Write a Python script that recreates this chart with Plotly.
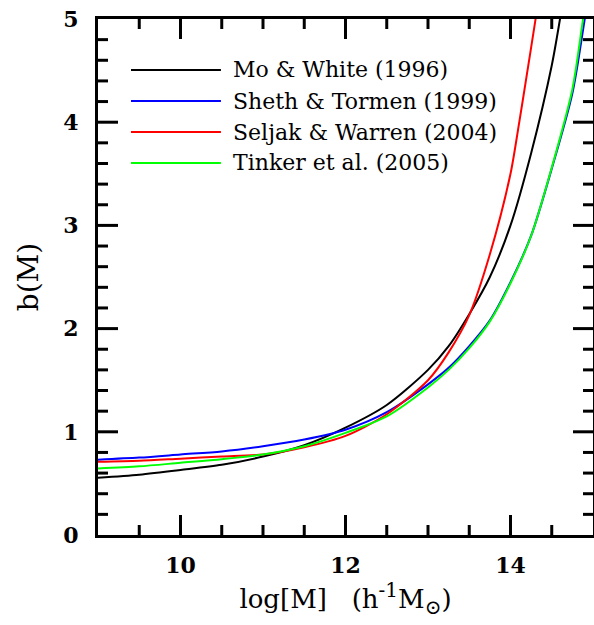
import plotly.graph_objects as go

# ---- data ----
names = ["Mo & White (1996)", "Sheth & Tormen (1999)", "Seljak & Warren (2004)", "Tinker et al. (2005)"]
colors = ["#000000", "#0000ff", "#ff0000", "#00ff00"]

mw_x = [9.0, 9.5, 10.0, 10.5, 11.0, 11.5, 12.0, 12.5, 13.0, 13.25, 13.5, 13.75, 14.0, 14.25, 14.5, 14.6, 14.7]
mw_y = [0.555, 0.585, 0.63, 0.68, 0.76, 0.87, 1.04, 1.26, 1.60, 1.83, 2.14, 2.50, 3.0, 3.70, 4.55, 5.0, 5.5]

st_x = [9.0, 9.5, 10.0, 10.5, 11.0, 11.5, 12.0, 12.5, 13.0, 13.25, 13.5, 13.75, 14.0, 14.25, 14.5, 14.75, 14.9, 15.0]
st_y = [0.73, 0.75, 0.78, 0.81, 0.86, 0.925, 1.02, 1.19, 1.46, 1.62, 1.83, 2.08, 2.45, 2.90, 3.55, 4.28, 5.0, 5.5]

sw_x = [9.0, 9.5, 10.0, 10.5, 11.0, 11.5, 12.0, 12.5, 13.0, 13.25, 13.5, 13.75, 14.0, 14.1, 14.2, 14.3, 14.35]
sw_y = [0.71, 0.72, 0.74, 0.76, 0.78, 0.85, 0.96, 1.17, 1.50, 1.77, 2.13, 2.72, 3.50, 3.97, 4.47, 4.98, 5.25]

tk_x = [9.0, 9.5, 10.0, 10.5, 11.0, 11.5, 12.0, 12.5, 13.0, 13.25, 13.5, 13.75, 14.0, 14.25, 14.5, 14.75, 14.88, 15.0]
tk_y = [0.645, 0.665, 0.70, 0.735, 0.78, 0.86, 0.99, 1.15, 1.43, 1.60, 1.81, 2.07, 2.44, 2.90, 3.56, 4.32, 5.0, 5.6]

series_x = [mw_x, st_x, sw_x, tk_x]
series_y = [mw_y, st_y, sw_y, tk_y]

x_range = [9, 15]
y_range = [0, 5]
x_ticks = [10, 12, 14]
x_minor_ticks = [9.5, 10.5, 11, 11.5, 12.5, 13, 13.5, 14.5]
y_ticks = [0, 1, 2, 3, 4, 5]
y_minor_ticks = [0.2, 0.4, 0.6, 0.8, 1.2, 1.4, 1.6, 1.8, 2.2, 2.4, 2.6, 2.8,
                 3.2, 3.4, 3.6, 3.8, 4.2, 4.4, 4.6, 4.8]

FONT = "DejaVu Serif"
NB = "\u00a0"

fig = go.Figure()
for nm, c, xs, ys in zip(names, colors, series_x, series_y):
    fig.add_trace(go.Scatter(x=xs, y=ys, mode="lines", name=nm,
                             line=dict(color=c, width=2, shape="spline", smoothing=0.8),
                             showlegend=False))

# manual legend (long line samples, as in the reference)
leg_y = [4.506, 4.205, 3.905, 3.605]
for nm, c, ly in zip(names, colors, leg_y):
    fig.add_shape(type="line", xref="x", yref="y", x0=9.40, x1=10.49, y0=ly, y1=ly,
                  line=dict(color=c, width=2))
    fig.add_annotation(x=10.61, y=ly, xref="x", yref="y", text=nm, showarrow=False,
                       xanchor="left", yanchor="middle",
                       font=dict(family=FONT, size=22, color="black"))

# inward ticks on all four sides (fixed pixel lengths)
TL_MAJ, TL_MIN, TW = 20, 10, 3
tick_line = dict(color="black", width=TW)
for vals, ln in ((x_ticks, TL_MAJ), (x_minor_ticks, TL_MIN)):
    for v in vals:
        fig.add_shape(type="line", xref="x", x0=v, x1=v, yref="y domain",
                      ysizemode="pixel", yanchor=0, y0=0, y1=ln, line=tick_line)
        fig.add_shape(type="line", xref="x", x0=v, x1=v, yref="y domain",
                      ysizemode="pixel", yanchor=1, y0=0, y1=-ln, line=tick_line)
for vals, ln in ((y_ticks[1:-1], TL_MAJ), (y_minor_ticks, TL_MIN)):
    for v in vals:
        fig.add_shape(type="line", yref="y", y0=v, y1=v, xref="x domain",
                      xsizemode="pixel", xanchor=0, x0=0, x1=ln, line=tick_line)
        fig.add_shape(type="line", yref="y", y0=v, y1=v, xref="x domain",
                      xsizemode="pixel", xanchor=1, x0=-ln, x1=0, line=tick_line)

tickfont = dict(family=FONT, size=22, color="black", weight="bold")
base = dict(showline=True, linecolor="black", linewidth=3, mirror=True, ticks="",
            showgrid=False, zeroline=False, automargin=False, ticklabeloverflow="allow")

fig.update_layout(
    xaxis=dict(range=x_range, tickvals=x_ticks, ticktext=[str(v) for v in x_ticks],
               tickfont=tickfont, ticklabelstandoff=9,
               title=dict(text="log[M]" + NB * 3 + "(h<sup><span style='font-size:20px'>-1</span></sup>M<sub><span style='font-size:20px'>⊙</span></sub>)",
                          font=dict(family=FONT, size=26, color="black"), standoff=2),
               **base),
    yaxis=dict(range=y_range, tickvals=y_ticks, ticktext=[str(v) for v in y_ticks],
               tickfont=tickfont, ticklabelstandoff=12,
               title=dict(text="b(M)", font=dict(family=FONT, size=28, color="black"), standoff=17),
               **base),
    width=594, height=625, margin=dict(l=98, r=1, t=19, b=90, pad=0),
    plot_bgcolor="white", paper_bgcolor="white", showlegend=False,
)

fig.write_html("out.html",
               config={"displayModeBar": False, "staticPlot": False},
               post_script="document.body.style.margin='0';document.body.style.padding='0';"
                           "document.body.style.overflow='hidden';")
